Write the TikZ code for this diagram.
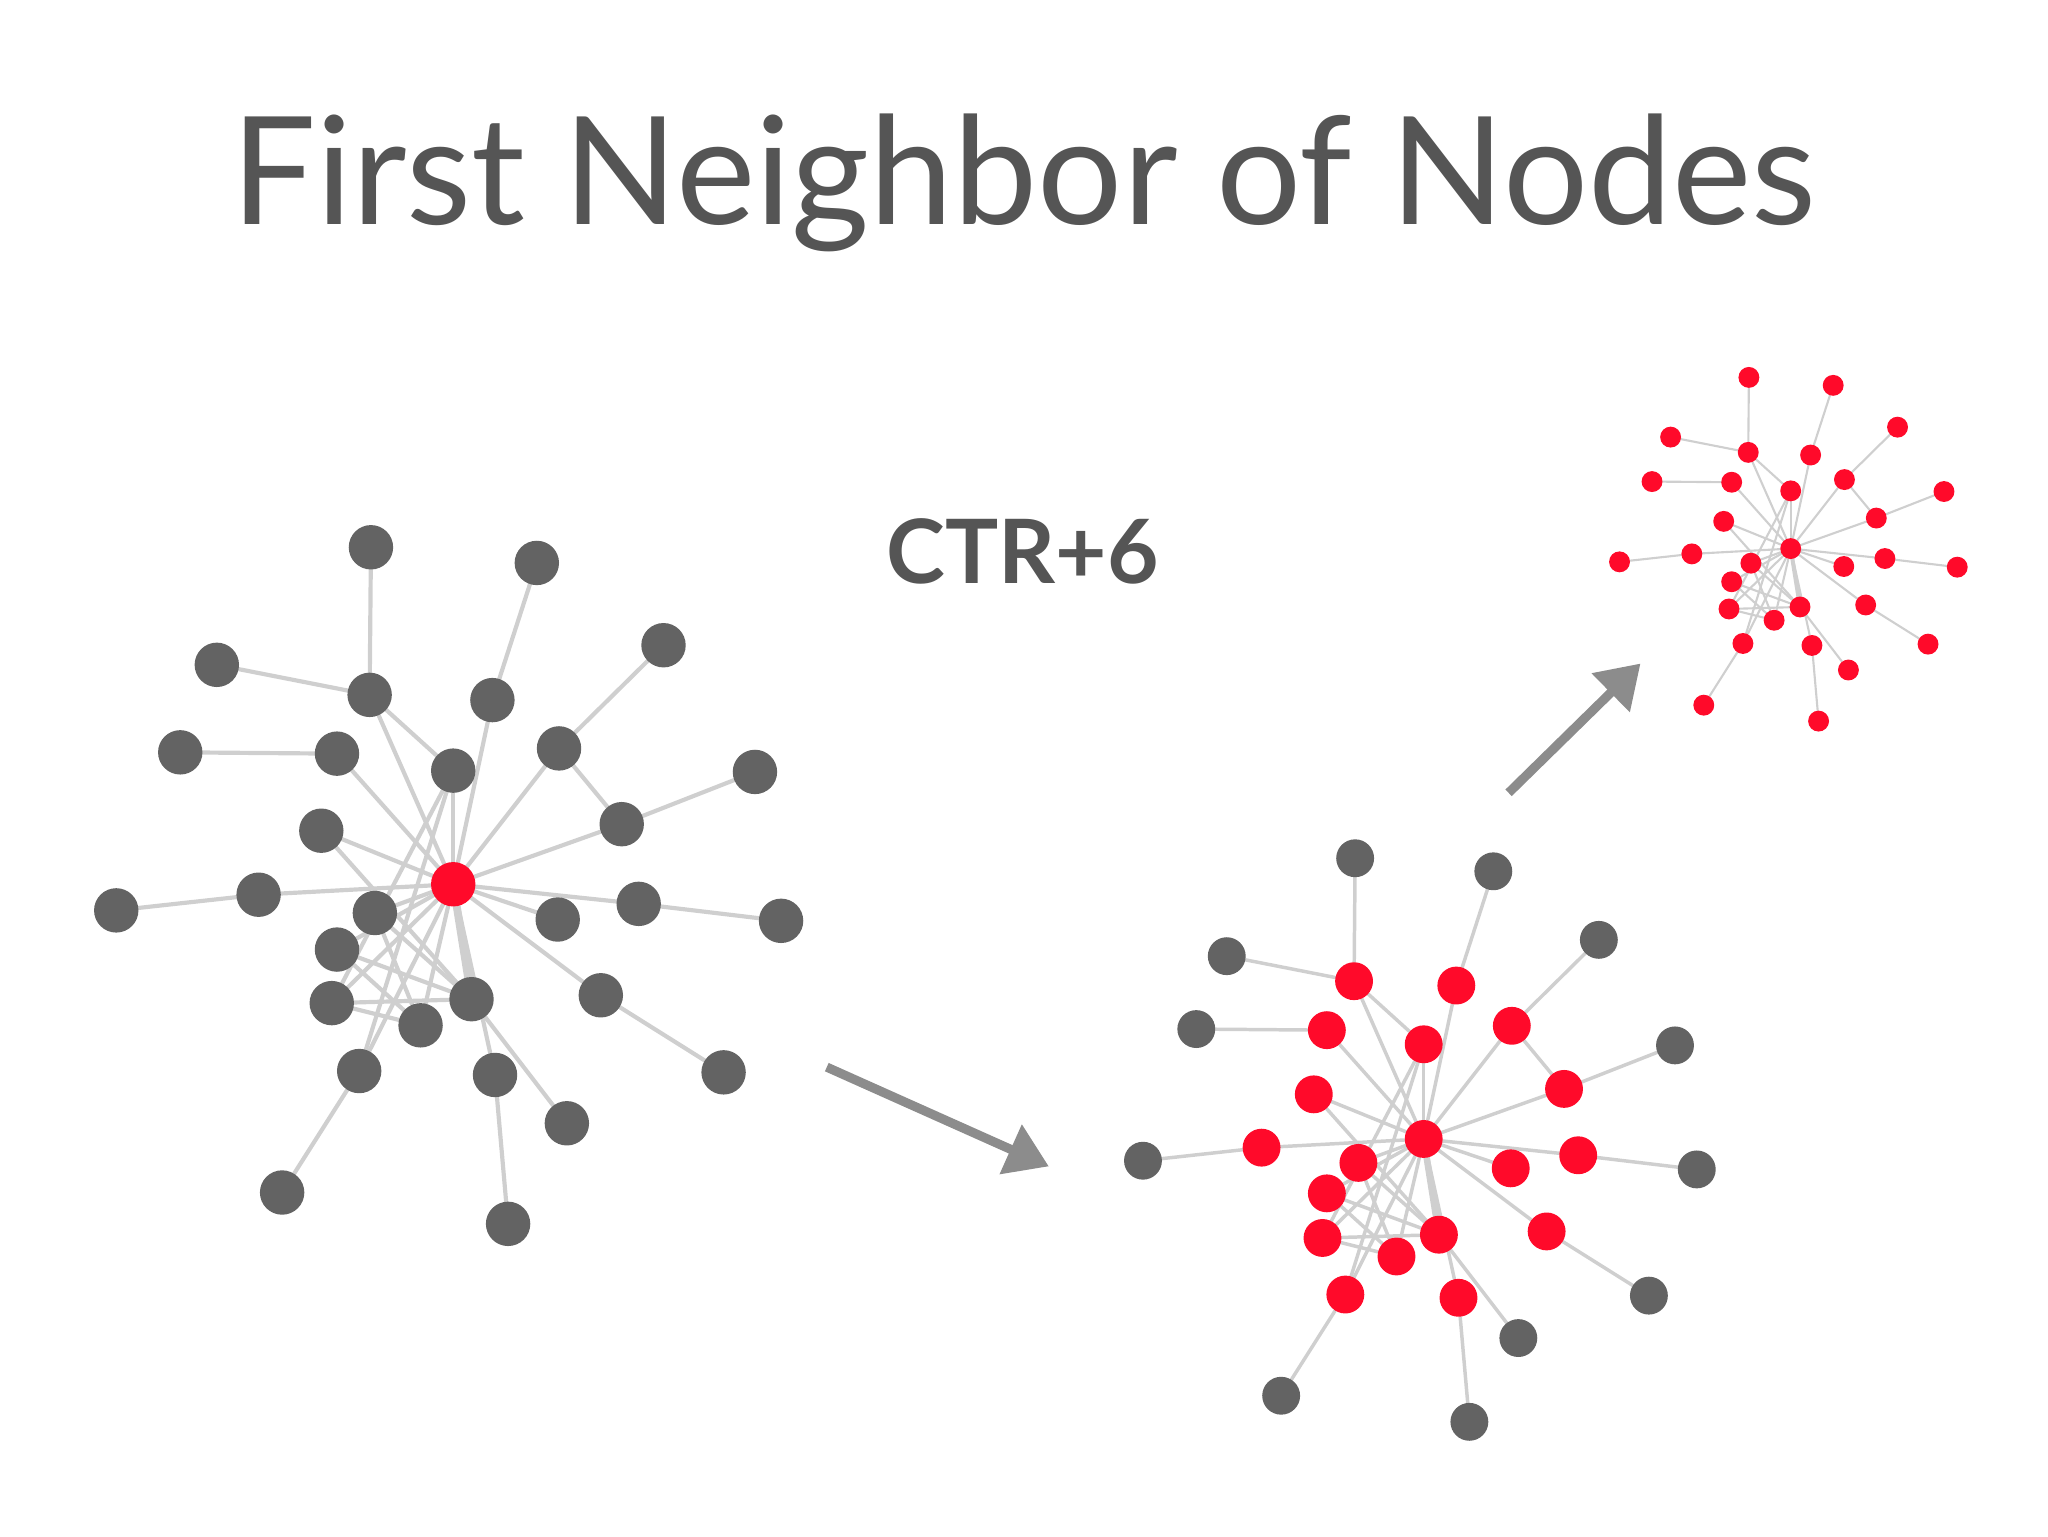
\documentclass[tikz,border=0pt]{standalone}
\usepackage{fontspec}
\setmainfont{Lato}
\usetikzlibrary{arrows.meta}
\pgfdeclarelayer{bg}
\pgfsetlayers{bg,main}
\definecolor{ngray}{HTML}{636363}
\definecolor{nred}{HTML}{FF0A2A}
\definecolor{egray}{HTML}{CFCFCF}
\definecolor{agray}{HTML}{8C8C8C}
\definecolor{tgray}{HTML}{555555}
\tikzset{dot/.style={circle,inner sep=0pt,draw=none},
 edge/.style={draw=egray,line cap=round},
 bigarrow/.style={draw=agray,line width=7pt,-{Triangle[length=32pt,width=40pt]}}}
\newcommand\drawgraph[7]{%
 \node[dot,fill=nred,minimum size=#5] (#1c) at (#3,#4) {};
 \foreach \n/\x/\y in {5/283/532,6/377/536,8/258/577,9/347/590,10/428/573,12/246/636,13/476/631,15/198/685,16/287/699,17/489/692,19/427/704,20/258/727,21/254/768,22/322/785,23/361/765,24/460/762,26/275/820,27/379/823}{
  \node[dot,fill=#6,minimum size=#5] (#1\n) at ({(\x-347)*#2+#3},{(\y-677)*#2+#4}) {};
  \begin{pgfonlayer}{bg}\draw[edge,line width=3.2pt*#2] (#1c) -- (#1\n);\end{pgfonlayer}}
 \foreach \n/\x/\y in {1/284/419,2/411/431,3/508/494,4/166/509,7/138/576,11/578/591,14/89/697,18/598/705,25/554/821,28/434/860,29/216/913,30/389/937}{
  \node[dot,fill=#7,minimum size=#5] (#1\n) at ({(\x-347)*#2+#3},{(\y-677)*#2+#4}) {};}
 \begin{pgfonlayer}{bg}
 \foreach \a/\b in {1/5,2/6,3/10,4/5,7/8,11/13,14/15,18/17,25/24,28/23,29/26,30/27,10/13,5/9,16/23,20/23,21/23,20/22,16/22,21/9,26/9,12/23,21/22}{
  \draw[edge,line width=3.2pt*#2] (#1\a) -- (#1\b);}
 \draw[edge,line width=6pt*#2] (#1c) -- (#123);
 \end{pgfonlayer}}
\begin{document}
\begin{tikzpicture}[x=1pt,y=-1pt]
\useasboundingbox (0,0) rectangle (1568,1176);
\node[text=tgray,font=\fontsize{115}{115}\selectfont] (title) at (784,140) {First Neighbor of Nodes};
\node[text=tgray,font=\fontsize{68}{68}\selectfont\bfseries] (ctr) at (783,422) {CTR+6};
\drawgraph{L}{1}{347}{677}{34pt}{ngray}{ngray}
\drawgraph{R}{0.833}{1090}{872}{29pt}{nred}{ngray}
\drawgraph{T}{0.508}{1371}{420}{16pt}{nred}{nred}
\coordinate (a1s) at (633,817); \coordinate (a1e) at (803,893);
\coordinate (a2s) at (1155,607); \coordinate (a2e) at (1256,508);
\draw[bigarrow] (a1s) -- (a1e);
\draw[bigarrow] (a2s) -- (a2e);
\end{tikzpicture}
\end{document}
